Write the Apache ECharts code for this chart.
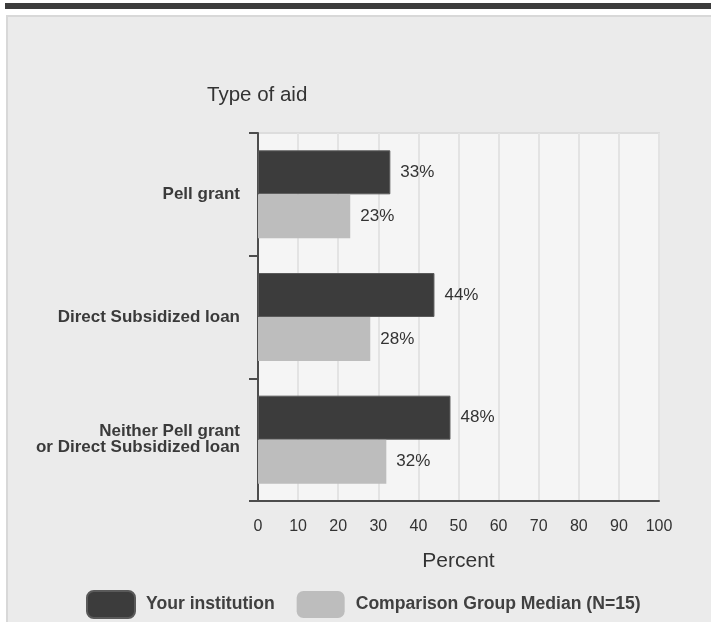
<!DOCTYPE html>
<html>
<head>
<meta charset="utf-8">
<script src="https://cdn.jsdelivr.net/npm/echarts@6/dist/echarts.min.js"></script>
<style>
html,body{margin:0;padding:0;background:#fff;}
#chart{width:711px;height:622px;}
</style>
</head>
<body>
<div id="chart"></div>
<script>
const categories = ['Pell grant', 'Direct Subsidized loan', 'Neither Pell grant\nor Direct Subsidized loan'];
const yourInstitution = [33, 44, 48];
const comparisonMedian = [23, 28, 32];
const seriesNames = ['Your institution', 'Comparison Group Median (N=15)'];
const titleText = 'Type of aid';
const xAxisName = 'Percent';

const FONT = '"Liberation Sans", Arial, sans-serif';
const chart = echarts.init(document.getElementById('chart'), null, {renderer: 'canvas'});

const labelCfg = {
  show: true, position: 'right', distance: 10,
  formatter: '{c}%', fontSize: 17, color: '#333', fontFamily: FONT
};

chart.setOption({
  backgroundColor: '#ffffff',
  animation: false,
  textStyle: {fontFamily: FONT},
  graphic: [
    {type: 'rect', z: -10, shape: {x: 5, y: 3, width: 706, height: 6}, style: {fill: '#3c3c3c'}},
    {type: 'rect', z: -10, shape: {x: 7, y: 16, width: 706, height: 610}, style: {fill: '#ebebeb', stroke: '#d8d8d8', lineWidth: 2}}
  ],
  title: {
    text: titleText, left: 207, top: 85, padding: 0,
    textStyle: {fontSize: 20.5, fontWeight: 'normal', color: '#333', fontFamily: FONT}
  },
  legend: {
    left: 86, top: 590, padding: 0,
    itemWidth: 48, itemHeight: 27, itemGap: 22,
    icon: 'roundRect',
    textStyle: {fontSize: 17.6, fontWeight: 'bold', color: '#404040', fontFamily: FONT, padding: [0, 0, 0, 6]},
    data: seriesNames
  },
  grid: {
    left: 258, right: 52, top: 133, bottom: 121,
    show: true, backgroundColor: '#f5f5f5', borderColor: '#dddddd', borderWidth: 2
  },
  xAxis: {
    type: 'value', min: 0, max: 100, interval: 10,
    name: xAxisName, nameLocation: 'middle', nameGap: 50,
    nameTextStyle: {fontSize: 21, color: '#333', fontFamily: FONT},
    axisLine: {show: true, lineStyle: {color: '#4d4d4d', width: 2}},
    axisTick: {show: false},
    axisLabel: {fontSize: 16, color: '#333', margin: 18, fontFamily: FONT},
    splitLine: {show: true, lineStyle: {color: '#e3e3e3', width: 2}}
  },
  yAxis: {
    type: 'category', inverse: true, data: categories,
    axisLine: {show: true, lineStyle: {color: '#4d4d4d', width: 2}},
    axisTick: {show: true, length: 9, lineStyle: {color: '#4d4d4d', width: 2}},
    axisLabel: {fontSize: 17, fontWeight: 'bold', color: '#3a3a3a', margin: 18, lineHeight: 16, fontFamily: FONT},
    splitLine: {show: false}
  },
  series: [
    {
      name: seriesNames[0], type: 'bar', data: yourInstitution,
      barWidth: 44, barGap: '0%',
      itemStyle: {color: '#3c3c3c', borderColor: '#5a5a5a', borderWidth: 1},
      label: labelCfg
    },
    {
      name: seriesNames[1], type: 'bar', data: comparisonMedian,
      barWidth: 44, barGap: '0%',
      itemStyle: {color: '#bdbdbd'},
      label: labelCfg
    }
  ]
});
</script>
</body>
</html>
